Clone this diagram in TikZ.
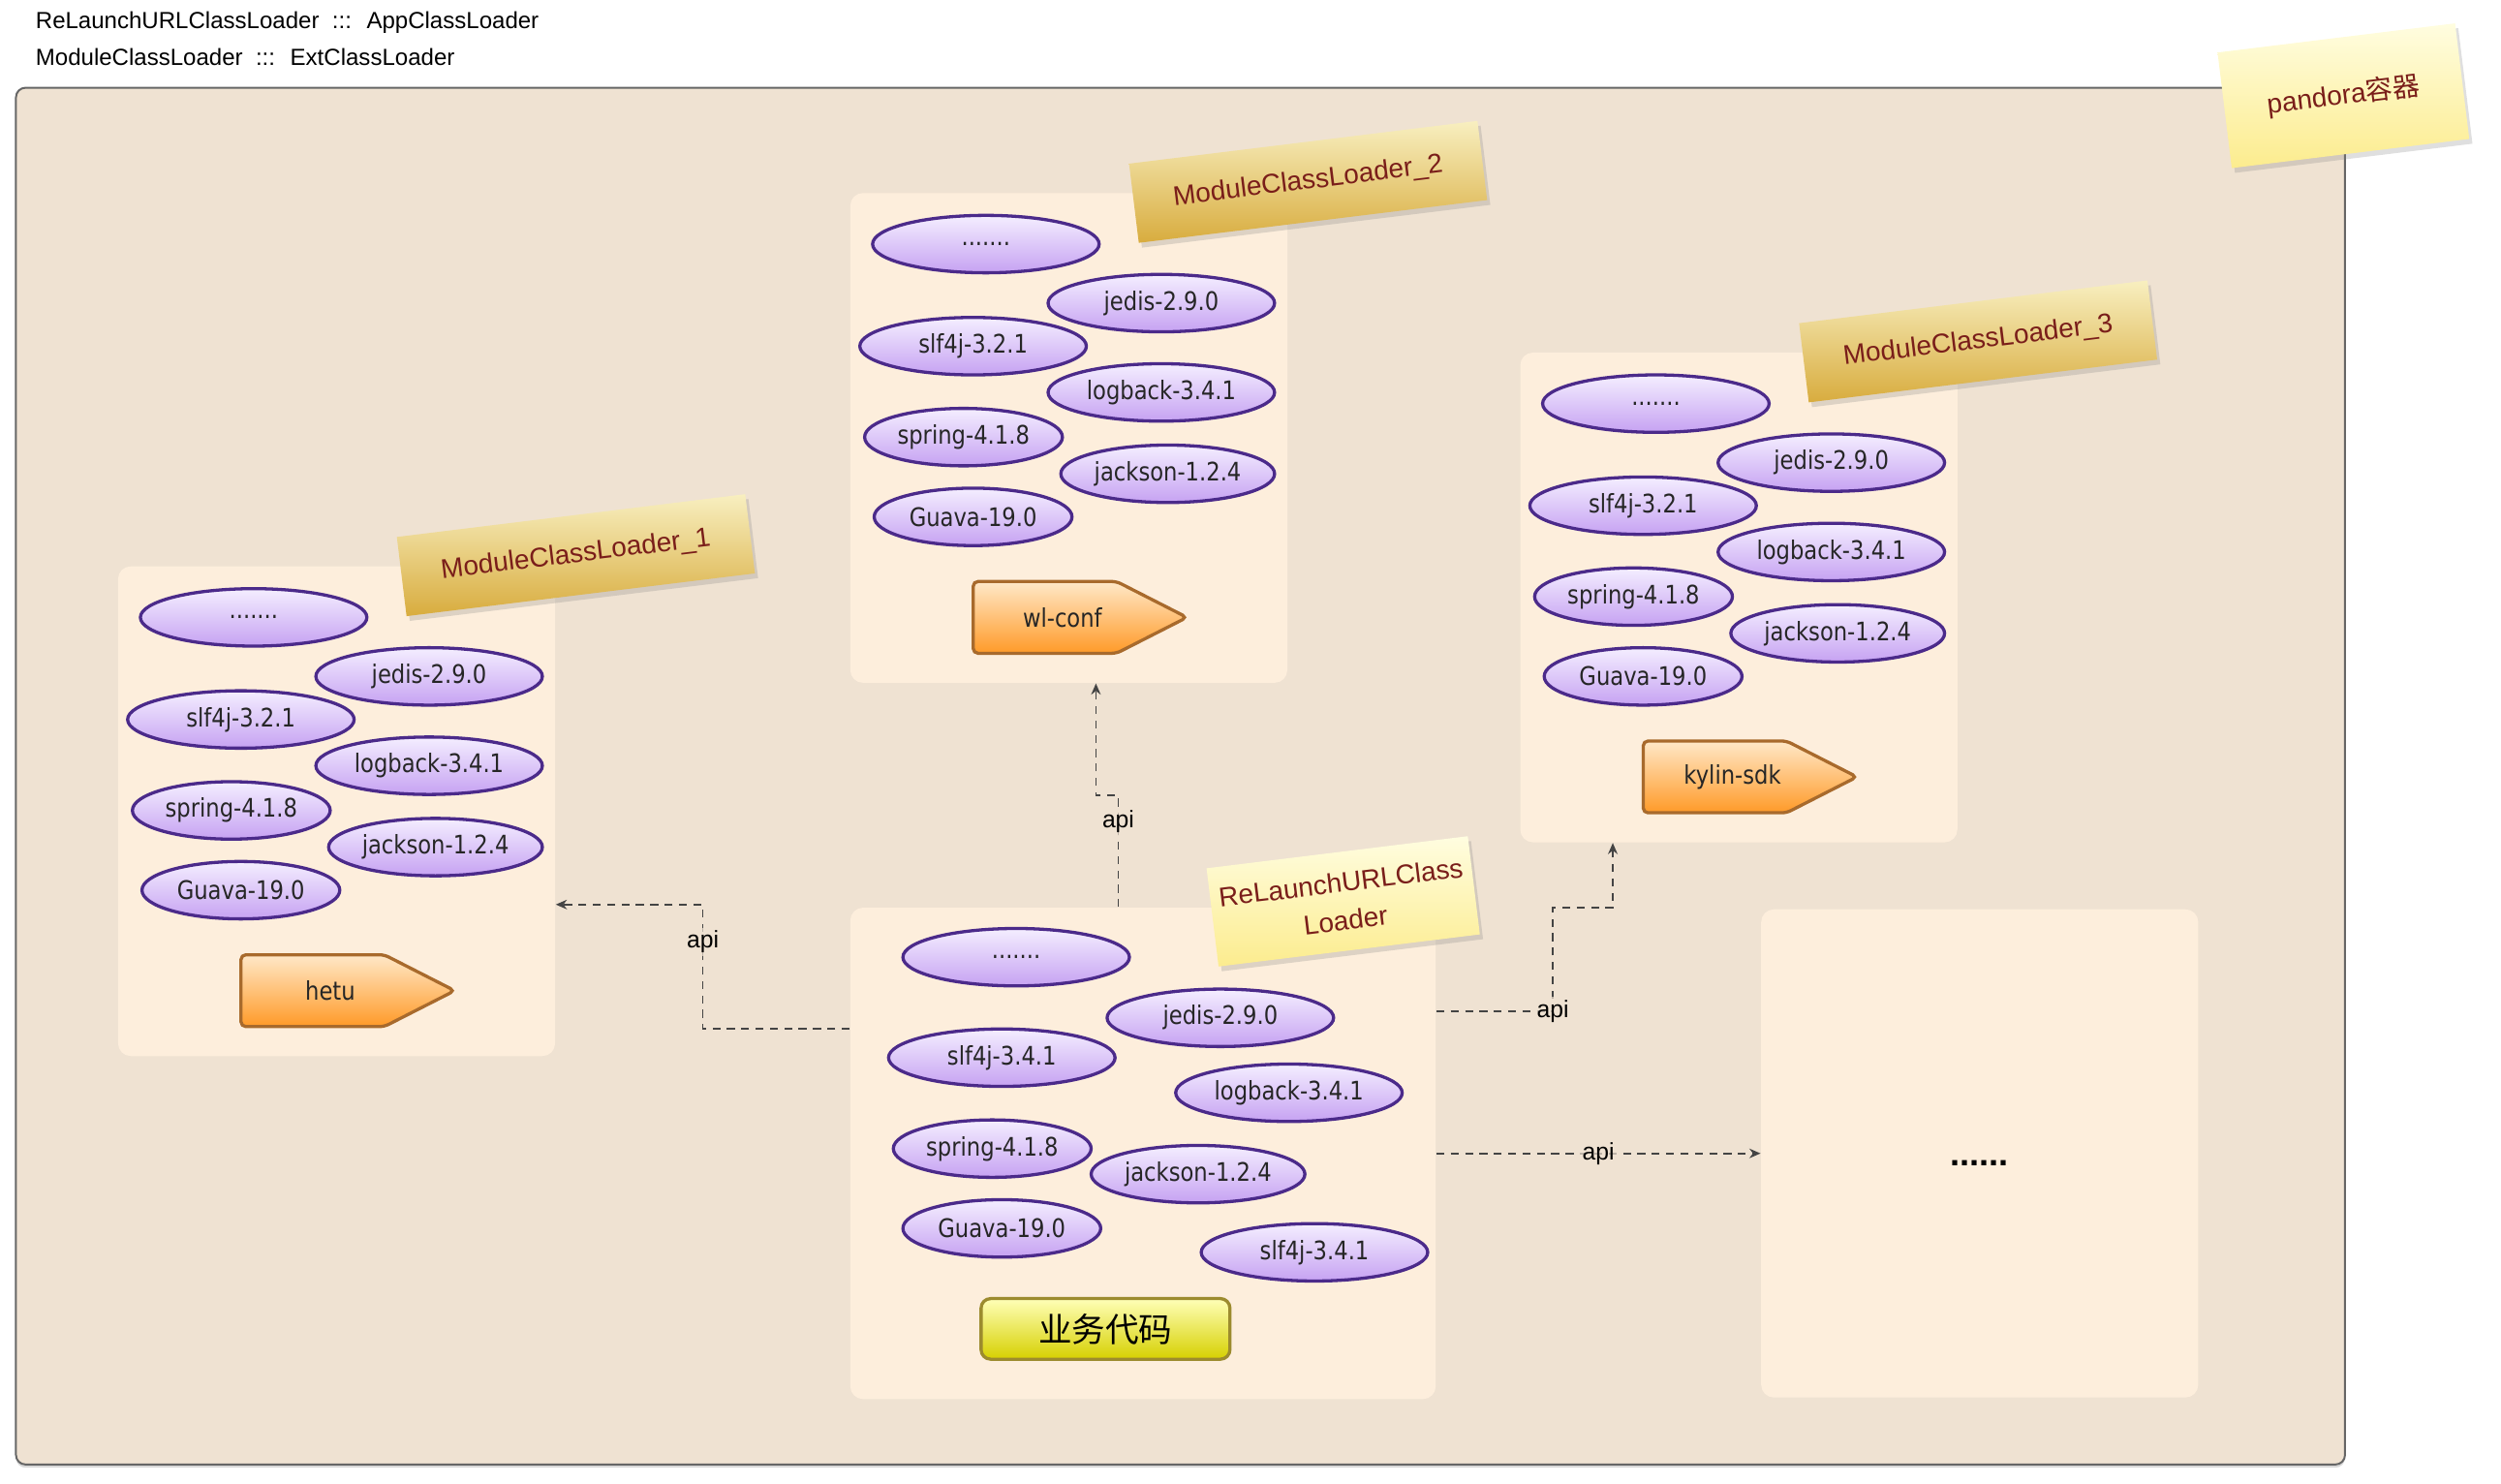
\documentclass[tikz,border=0pt]{standalone}
\usepackage{fontspec}
\setmainfont{Liberation Sans}
\newfontfamily\jarfont[FakeStretch=0.86]{DejaVu Sans}
\newfontfamily\cjkfont{Noto Sans CJK SC}
\usetikzlibrary{arrows.meta, shapes.geometric, shapes.symbols, shadows}

\definecolor{outerfill}{HTML}{EFE2D2}
\definecolor{boxfill}{HTML}{FDEEDC}
\definecolor{jarline}{HTML}{4B2A8A}
\definecolor{jartop}{HTML}{F4EEFF}
\definecolor{jarbottom}{HTML}{C6A2F2}
\definecolor{notered}{HTML}{7A1E1A}
\definecolor{goldtop}{HTML}{F8EFC0}
\definecolor{goldbottom}{HTML}{D8AC3E}
\definecolor{paletop}{HTML}{FFFDE0}
\definecolor{palebottom}{HTML}{FCEC8E}
\definecolor{sdktop}{HTML}{FFE8C8}
\definecolor{sdkbottom}{HTML}{FF9A28}
\definecolor{sdkline}{HTML}{A86A2C}
\definecolor{biztop}{HTML}{FFFFB8}
\definecolor{bizbottom}{HTML}{D6D000}
\definecolor{bizline}{HTML}{9C8B2E}
\definecolor{apigray}{HTML}{444444}

\tikzset{
  container/.style={draw=black!60, line width=0.6pt, fill=outerfill, rounded corners=3pt,
    inner sep=0pt, drop shadow={opacity=0.3, shadow xshift=0pt, shadow yshift=-1pt}},
  modbox/.style={fill=boxfill, rounded corners=4pt, inner sep=0pt,
    minimum width=137pt, minimum height=153.5pt},
  jar/.style={ellipse, draw=jarline, line width=1pt, top color=jartop, bottom color=jarbottom,
    inner sep=0pt, minimum height=18pt, minimum width=71pt, text=black!85,
    font=\jarfont\fontsize{8}{9}\selectfont},
  note/.style={rotate=7, inner sep=0pt, text=notered, align=center,
    font=\fontsize{8.5}{12}\selectfont,
    drop shadow={opacity=0.25, shadow xshift=1pt, shadow yshift=-1.5pt}},
  goldnote/.style={note, top color=goldtop, bottom color=goldbottom,
    minimum width=110pt, minimum height=25pt},
  palenote/.style={note, top color=paletop, bottom color=palebottom},
  sdk/.style={signal, signal to=east, signal pointer angle=54, draw=sdkline, line width=1pt,
    top color=sdktop, bottom color=sdkbottom, rounded corners=1.5pt, inner sep=0pt,
    minimum width=67pt, minimum height=22.5pt, text=black!85,
    font=\jarfont\fontsize{8}{9}\selectfont},
  bizbtn/.style={draw=bizline, line width=1pt, top color=biztop, bottom color=bizbottom,
    rounded corners=3pt, minimum width=78pt, minimum height=19pt, inner sep=0pt,
    font=\cjkfont\fontsize{10.5}{12}\selectfont},
  apiline/.style={dash pattern=on 2.5pt off 2pt, draw=apigray, line width=0.5pt,
    -{Stealth[length=3.5pt,width=3pt]}},
  apilabel/.style={font=\fontsize{7.5}{9}\selectfont, inner sep=1pt, fill=outerfill,
    fill opacity=0.7, text opacity=1}
}

\begin{document}
\begin{tikzpicture}[x=0.5pt,y=-0.5pt]
\useasboundingbox (0,0) rectangle (1567.8,930.2);

% legend
\node[anchor=west, inner sep=0pt, font=\fontsize{7.3}{9}\selectfont] (t1) at (22,14) {ReLaunchURLClassLoader ~:::~ AppClassLoader};
\node[anchor=west, inner sep=0pt, font=\fontsize{7.3}{9}\selectfont] (t2) at (22,36) {ModuleClassLoader ~:::~ ExtClassLoader};

% pandora container
\node[container, minimum width=730pt, minimum height=431.5pt] (box) at (740,486.5) {};

% ModuleClassLoader_1
\node[modbox] (m1) at (211,508.5) {};
\node[goldnote] (n1) at (361,348) {ModuleClassLoader\_1};
\node[jar] (m1a) at (159,387) {.......};
\node[jar] (m1b) at (269,424) {jedis-2.9.0};
\node[jar] (m1c) at (151,451) {slf4j-3.2.1};
\node[jar] (m1d) at (269,480) {logback-3.4.1};
\node[jar, minimum width=62pt] (m1e) at (145,508) {spring-4.1.8};
\node[jar, minimum width=67pt] (m1f) at (273,531) {jackson-1.2.4};
\node[jar, minimum width=62pt] (m1g) at (151,558) {Guava-19.0};
\node[sdk] (s1) at (196,621) {\hspace*{11pt}hetu};

% ModuleClassLoader_2
\begin{scope}[shift={(459,-234)}]
\node[modbox] (m2) at (211,508.5) {};
\node[goldnote] (n2) at (361,348) {ModuleClassLoader\_2};
\node[jar] (m2a) at (159,387) {.......};
\node[jar] (m2b) at (269,424) {jedis-2.9.0};
\node[jar] (m2c) at (151,451) {slf4j-3.2.1};
\node[jar] (m2d) at (269,480) {logback-3.4.1};
\node[jar, minimum width=62pt] (m2e) at (145,508) {spring-4.1.8};
\node[jar, minimum width=67pt] (m2f) at (273,531) {jackson-1.2.4};
\node[jar, minimum width=62pt] (m2g) at (151,558) {Guava-19.0};
\node[sdk] (s2) at (196,621) {\hspace*{11pt}wl-conf};
\end{scope}

% ModuleClassLoader_3
\begin{scope}[shift={(879,-134)}]
\node[modbox] (m3) at (211,508.5) {};
\node[goldnote] (n3) at (361,348) {ModuleClassLoader\_3};
\node[jar] (m3a) at (159,387) {.......};
\node[jar] (m3b) at (269,424) {jedis-2.9.0};
\node[jar] (m3c) at (151,451) {slf4j-3.2.1};
\node[jar] (m3d) at (269,480) {logback-3.4.1};
\node[jar, minimum width=62pt] (m3e) at (145,508) {spring-4.1.8};
\node[jar, minimum width=67pt] (m3f) at (273,531) {jackson-1.2.4};
\node[jar, minimum width=62pt] (m3g) at (151,558) {Guava-19.0};
\node[sdk] (s3) at (196,621) {\hspace*{11pt}kylin-sdk};
\end{scope}

% ReLaunchURLClassLoader
\node[modbox, minimum width=183.5pt, minimum height=154pt] (c) at (716.5,723) {};
\node[palenote, minimum width=82.5pt, minimum height=31pt] (nc) at (842,565) {ReLaunchURLClass\\Loader};
\node[jar] (ca) at (637,600) {.......};
\node[jar] (cb) at (765,638) {jedis-2.9.0};
\node[jar] (cc) at (628,663) {slf4j-3.4.1};
\node[jar] (cd) at (808,685) {logback-3.4.1};
\node[jar, minimum width=62pt] (ce) at (622,720) {spring-4.1.8};
\node[jar, minimum width=67pt] (cf) at (751,736) {jackson-1.2.4};
\node[jar, minimum width=62pt] (cg) at (628,770) {Guava-19.0};
\node[jar] (ch) at (824,785) {slf4j-3.4.1};
\node[bizbtn] (biz) at (693,833) {业务代码};

% other modules
\node[modbox, minimum height=153pt] (e) at (1241,723) {};
\node[font=\bfseries\fontsize{11}{12}\selectfont] (edots) at (1241,729) {......};

\node[palenote, minimum width=75pt, minimum height=36.5pt] (pan) at (1469,60) {pandora{\cjkfont 容器}};

% api
\draw[apiline] ([xshift=-7.75pt]c.north) -- node[apilabel, pos=0.77] {api} ++(0,-70) -| ([xshift=8.5pt]m2.south);
\draw[apiline] ([yshift=39pt]c.west) -- ++(-92,0) |- node[apilabel, pos=0.35] {api} ([yshift=-29.25pt]m1.east);
\draw[apiline] ([yshift=44.5pt]c.east) -- node[apilabel, pos=1] {api} ++(73,0) -- ++(0,-65) -| ([xshift=-39.5pt]m3.south);
\draw[apiline] (c.east) -- node[apilabel] {api} (e.west);
\end{tikzpicture}
\end{document}
